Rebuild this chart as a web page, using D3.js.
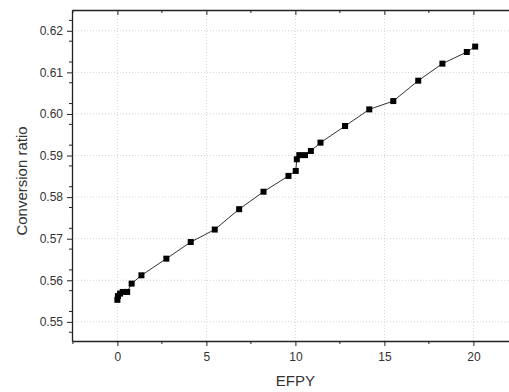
<!DOCTYPE html>
<html>
<head>
<meta charset="utf-8">
<script src="https://cdn.jsdelivr.net/npm/d3@7"></script>
<style>
  body { margin: 0; background: #fff; }
  text { font-family: "Liberation Sans", Arial, sans-serif; }
</style>
</head>
<body>
<svg id="chart" width="509" height="392"></svg>
<script>
// EFPY vs conversion ratio
var efpy = [0, 0.03, 0.15, 0.3, 0.55, 0.8, 1.35, 2.75, 4.12, 5.47, 6.84, 8.21, 9.61,
            10.02, 10.08, 10.22, 10.54, 10.87, 11.41, 12.79, 14.15, 15.5, 16.9, 18.26, 19.63, 20.1];
var ratio = [0.5553, 0.5562, 0.5568, 0.5572, 0.5572, 0.5592, 0.5612, 0.5652, 0.5692, 0.5722, 0.5771, 0.5813, 0.5851,
             0.5863, 0.5891, 0.5901, 0.5901, 0.5911, 0.5931, 0.5971, 0.6011, 0.6031, 0.6080, 0.6121, 0.6149, 0.6162];
var xTicks = [0, 5, 10, 15, 20];
var yTicks = [0.55, 0.56, 0.57, 0.58, 0.59, 0.60, 0.61, 0.62];

var svg = d3.select("#chart"),
    margin = {left: 72, right: 0, top: 10, bottom: 51},
    width = 509 - margin.left - margin.right,
    height = 392 - margin.top - margin.bottom;

var x = d3.scaleLinear().domain([-2.55, 22]).range([0, width]);
var y = d3.scaleLinear().domain([0.5454, 0.625]).range([height, 0]);

var g = svg.append("g").attr("transform", "translate(" + margin.left + "," + margin.top + ")");

// dotted grid
g.selectAll(".gx").data(xTicks).enter().append("line")
    .attr("x1", d => x(d)).attr("x2", d => x(d))
    .attr("y1", 0).attr("y2", height)
    .attr("stroke", "#d4d4d4").attr("stroke-dasharray", "1,2");
g.selectAll(".gy").data(yTicks).enter().append("line")
    .attr("x1", 0).attr("x2", width)
    .attr("y1", d => y(d)).attr("y2", d => y(d))
    .attr("stroke", "#d4d4d4").attr("stroke-dasharray", "1,2");

var xMinor = d3.range(-2.5, 22, 2.5).filter(d => xTicks.indexOf(d) < 0);
var yMinor = d3.range(0.5475, 0.625, 0.005).map(d => +d.toFixed(4)).filter(d => Math.round(d * 1000) % 10 !== 0);

// bottom axis
var xAxis = g.append("g").attr("transform", "translate(0," + height + ")")
    .call(d3.axisBottom(x).tickValues(xTicks).tickSize(5).tickPadding(6).tickSizeOuter(0));
xAxis.selectAll(".tick.minor").data(xMinor).enter().append("line")
    .attr("x1", d => x(d)).attr("x2", d => x(d)).attr("y1", 0).attr("y2", 3).attr("stroke", "#222");

// top axis (ticks inward)
var xTop = g.append("g")
    .call(d3.axisTop(x).tickValues(xTicks).tickSize(-5).tickFormat("").tickSizeOuter(0));
xTop.selectAll(".mt").data(xMinor).enter().append("line")
    .attr("x1", d => x(d)).attr("x2", d => x(d)).attr("y1", 0).attr("y2", 3).attr("stroke", "#222");

// left axis
var yAxis = g.append("g")
    .call(d3.axisLeft(y).tickValues(yTicks).tickFormat(d3.format(".2f")).tickSize(5).tickPadding(4).tickSizeOuter(0));
yAxis.selectAll(".mt").data(yMinor).enter().append("line")
    .attr("x1", -3).attr("x2", 0).attr("y1", d => y(d)).attr("y2", d => y(d)).attr("stroke", "#222");

svg.selectAll(".domain").attr("stroke", "#222").attr("stroke-width", 1.3);
svg.selectAll(".tick line").attr("stroke", "#222");
svg.selectAll(".tick text").attr("font-size", 12).attr("fill", "#333");

// line + markers
var pts = efpy.map((d, i) => [d, ratio[i]]);
g.append("path").datum(pts)
    .attr("fill", "none").attr("stroke", "#333").attr("stroke-width", 1)
    .attr("d", d3.line().x(d => x(d[0])).y(d => y(d[1])));
g.selectAll(".pt").data(pts).enter().append("rect")
    .attr("x", d => x(d[0]) - 3).attr("y", d => y(d[1]) - 3)
    .attr("width", 6).attr("height", 6).attr("fill", "#000");

// titles
svg.append("text").attr("x", margin.left + x(10)).attr("y", 386)
    .attr("text-anchor", "middle").attr("font-size", 15).attr("fill", "#333").text("EFPY");
svg.append("text").attr("transform", "translate(27,181) rotate(-90)")
    .attr("text-anchor", "middle").attr("font-size", 15).attr("fill", "#333").text("Conversion ratio");
</script>
</body>
</html>
